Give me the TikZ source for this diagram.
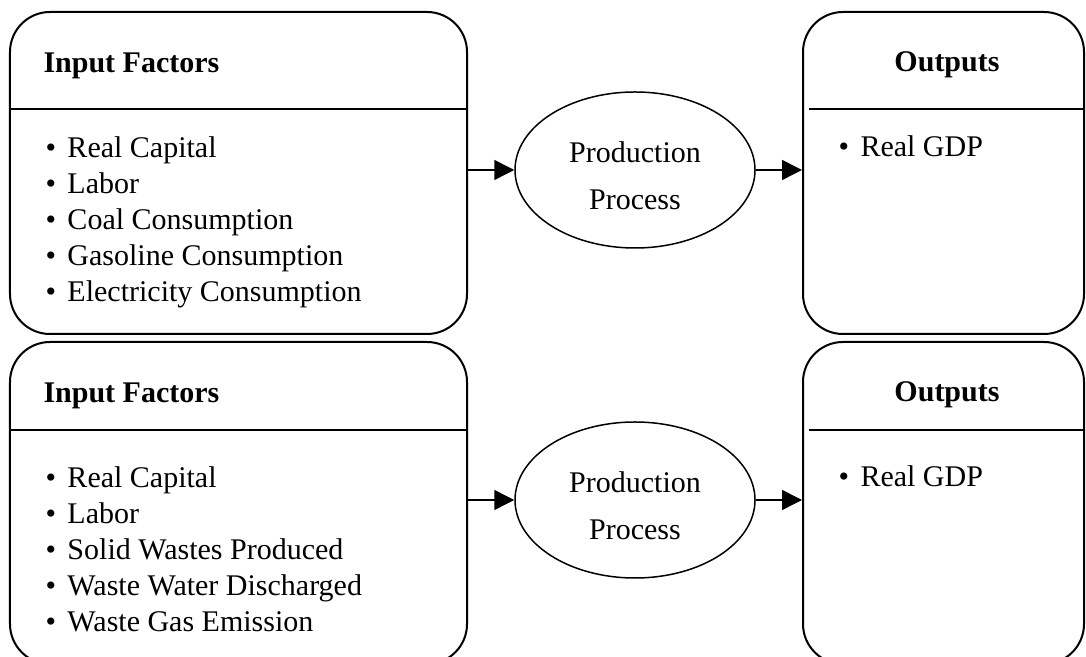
\documentclass[tikz,border=0pt]{standalone}
\usepackage{fontspec}
\setmainfont{Liberation Serif}
\usetikzlibrary{arrows.meta,positioning,shapes.geometric}

\newcommand{\itm}[1]{\makebox[8.8pt][l]{\textbullet}#1}

\begin{document}
\begin{tikzpicture}[x=0.4pt,y=-0.4pt,
				panel/.style={rectangle, draw, line width=0.8pt, rounded corners=16pt,
					minimum height=128.8pt},
				proc/.style={ellipse, draw, line width=0.6pt,
					minimum width=96pt, minimum height=62.4pt},
				proctext/.style={align=center, inner sep=0pt, font=\fontsize{12}{14.4}\selectfont},
				head/.style={inner sep=0pt, font=\fontsize{12}{14.4}\selectfont\bfseries},
				items/.style={anchor=base west, align=left, inner sep=0pt,
					font=\fontsize{12}{14.4}\selectfont},
				arrow/.style={-{Triangle[length=8pt,width=8pt]}, line width=0.6pt},
				divider/.style={line width=0.8pt}
				]
				\useasboundingbox (0,0) rectangle (1086,657);
				
				% upper row
				\node[panel, minimum width=182.8pt] (in1) at (238.5,173) {};
				\node[panel, minimum width=112.4pt] (out1) at (943.5,173) {};
				\node[proc] (pp1) at (635,170) {};
				\node[proctext] (t1) at ([yshift=-2.4pt]pp1.center) {Production\\[4.4pt]Process};
				\coordinate (d1) at (0,109);
				\node[head, anchor=base west] (h1) at (43,73) {Input Factors};
				\node[head, anchor=base] (o1) at (947,72) {Outputs};
				\node[items] (l1) at (45,302) {\itm{Real Capital}\\ \itm{Labor}\\ \itm{Coal Consumption}\\
					\itm{Gasoline Consumption}\\ \itm{Electricity Consumption}};
				\node[items] (r1) at (838,157) {\itm{Real GDP}};
				
				% lower row
				\node[panel, minimum width=182.8pt] (in2) at (238.5,503) {};
				\node[panel, minimum width=112.4pt] (out2) at (943.5,503) {};
				\node[proc] (pp2) at (635,500) {};
				\node[proctext] (t2) at ([yshift=-2.4pt]pp2.center) {Production\\[4.4pt]Process};
				\coordinate (d2) at (0,430);
				\node[head, anchor=base west] (h2) at (43,403) {Input Factors};
				\node[head, anchor=base] (o2) at (947,402) {Outputs};
				\node[items] (l2) at (45,632) {\itm{Real Capital}\\ \itm{Labor}\\ \itm{Solid Wastes Produced}\\
					\itm{Waste Water Discharged}\\ \itm{Waste Gas Emission}};
				\node[items] (r2) at (838,487) {\itm{Real GDP}};
				
				\draw[divider] (in1.west |- d1) -- (in1.east |- d1);
				\draw[divider] ([xshift=2.8pt]out1.west |- d1) -- (out1.east |- d1);
				\draw[divider] (in2.west |- d2) -- (in2.east |- d2);
				\draw[divider] ([xshift=2.8pt]out2.west |- d2) -- (out2.east |- d2);
				
				\draw[arrow] (in1.east |- pp1.west)--(pp1.west);
				\draw[arrow] (pp1.east)--(out1.west |- pp1.east);
				\draw[arrow] (in2.east |- pp2.west)--(pp2.west);
				\draw[arrow] (pp2.east)--(out2.west |- pp2.east);
		\end{tikzpicture}
\end{document}
